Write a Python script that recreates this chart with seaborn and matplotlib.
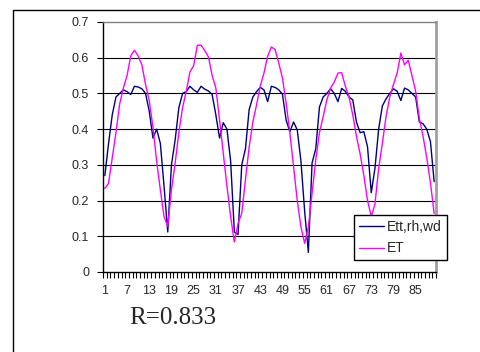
import numpy as np
import pandas as pd
import seaborn as sns
import matplotlib.pyplot as plt
from matplotlib.patches import Rectangle

sns.set_style("white")
plt.rcParams["font.family"] = ["Liberation Sans", "DejaVu Sans"]

# Daily values
days = list(range(1, 91))

ett_rh_wd = [
    0.27, 0.36, 0.44, 0.49, 0.50, 0.51, 0.505, 0.497, 0.52, 0.518,
    0.513, 0.50, 0.45, 0.375, 0.40, 0.36, 0.24, 0.112, 0.30, 0.37,
    0.46, 0.50, 0.505, 0.52, 0.51, 0.503, 0.52, 0.512, 0.507, 0.497,
    0.44, 0.375, 0.418, 0.40, 0.31, 0.112, 0.105, 0.30, 0.345, 0.455,
    0.49, 0.505, 0.517, 0.51, 0.477, 0.52, 0.517, 0.51, 0.498, 0.425,
    0.393, 0.42, 0.398, 0.31, 0.17, 0.055, 0.305, 0.345, 0.462, 0.49,
    0.50, 0.513, 0.50, 0.477, 0.514, 0.506, 0.49, 0.482, 0.42, 0.39,
    0.393, 0.35, 0.222, 0.29, 0.40, 0.465, 0.485, 0.50, 0.513, 0.506,
    0.48, 0.515, 0.51, 0.50, 0.49, 0.42, 0.415, 0.40, 0.365, 0.253,
]

et = [
    0.234, 0.248, 0.32, 0.39, 0.47, 0.515, 0.55, 0.605, 0.621, 0.605,
    0.58, 0.525, 0.48, 0.405, 0.31, 0.23, 0.155, 0.128, 0.23, 0.305,
    0.39, 0.46, 0.506, 0.56, 0.578, 0.635, 0.635, 0.62, 0.602, 0.55,
    0.515, 0.426, 0.333, 0.24, 0.155, 0.084, 0.136, 0.164, 0.258, 0.35,
    0.42, 0.468, 0.52, 0.557, 0.604, 0.63, 0.623, 0.585, 0.543, 0.473,
    0.39, 0.295, 0.20, 0.126, 0.08, 0.126, 0.22, 0.314, 0.39, 0.435,
    0.482, 0.515, 0.532, 0.557, 0.558, 0.52, 0.49, 0.44, 0.38, 0.33,
    0.27, 0.20, 0.155, 0.19, 0.29, 0.36, 0.435, 0.49, 0.525, 0.557,
    0.613, 0.58, 0.593, 0.55, 0.506, 0.43, 0.38, 0.32, 0.25, 0.164,
]

series_names = ["Ett,rh,wd", "ET"]
colors = ["#000080", "#FF00FF"]
y_ticks = [0, 0.1, 0.2, 0.3, 0.4, 0.5, 0.6, 0.7]
x_labels = list(range(1, 91, 6))
r_text = "R=0.833"

df = pd.DataFrame({
    "day": days * 2,
    "value": ett_rh_wd + et,
    "series": [series_names[0]] * len(days) + [series_names[1]] * len(days),
})

fig = plt.figure(figsize=(4.81, 3.52), dpi=100)
ax = fig.add_axes([103 / 481, 1 - 272 / 352, 333 / 481, 250 / 352])

sns.lineplot(data=df, x="day", y="value", hue="series", hue_order=series_names,
             palette=colors, linewidth=1.0, ax=ax, legend=True)

ax.set_xlim(0.5, 90.5)
ax.set_ylim(0, 0.7)
ax.set_yticks(y_ticks)
ax.set_yticklabels(["0"] + [f"{v:.1f}" for v in y_ticks[1:]])
ax.set_xticks(x_labels)
ax.set_xticklabels([str(v) for v in x_labels])
ax.set_xticks(np.arange(0.5, 91, 1), minor=True)
ax.tick_params(axis="x", which="major", length=0, pad=9, labelsize=9)
ax.tick_params(axis="x", which="minor", length=4, width=0.8, direction="out",
               color="black", bottom=True)
ax.tick_params(axis="y", length=4, width=0.8, direction="out", color="black",
               left=True, pad=6, labelsize=9)
ax.set_xlabel("")
ax.set_ylabel("")

for y in y_ticks[1:-1]:
    ax.axhline(y, color="black", linewidth=0.8, zorder=0)

ax.spines["left"].set_color("black")
ax.spines["bottom"].set_color("black")
ax.spines["left"].set_linewidth(1.0)
ax.spines["bottom"].set_linewidth(1.0)
ax.spines["top"].set_color("#808080")
ax.spines["top"].set_linewidth(1.0)
ax.spines["right"].set_color("#a0a0a0")
ax.spines["right"].set_linewidth(2.0)

handles, labels = ax.get_legend_handles_labels()
leg = ax.legend(handles, labels, loc="upper left",
                bbox_to_anchor=(354 / 481, 1 - 215 / 352),
                bbox_transform=fig.transFigure, frameon=True, fancybox=False,
                edgecolor="black", framealpha=1, fontsize=10,
                handlelength=1.8, handletextpad=0.25, borderpad=0.35,
                labelspacing=0.55, borderaxespad=0)
leg.get_frame().set_linewidth(1.0)

fig.text(173 / 481, 1 - 318 / 352, r_text, family=["Liberation Serif", "DejaVu Serif"],
         fontsize=18, ha="center", va="center")

fig.add_artist(Rectangle((12.5 / 481, -0.1), 1.2, 1.1 - 10.5 / 352, fill=False,
                         edgecolor="black", linewidth=1.0,
                         transform=fig.transFigure))

fig.savefig("out.png", dpi=100)
plt.close(fig)
